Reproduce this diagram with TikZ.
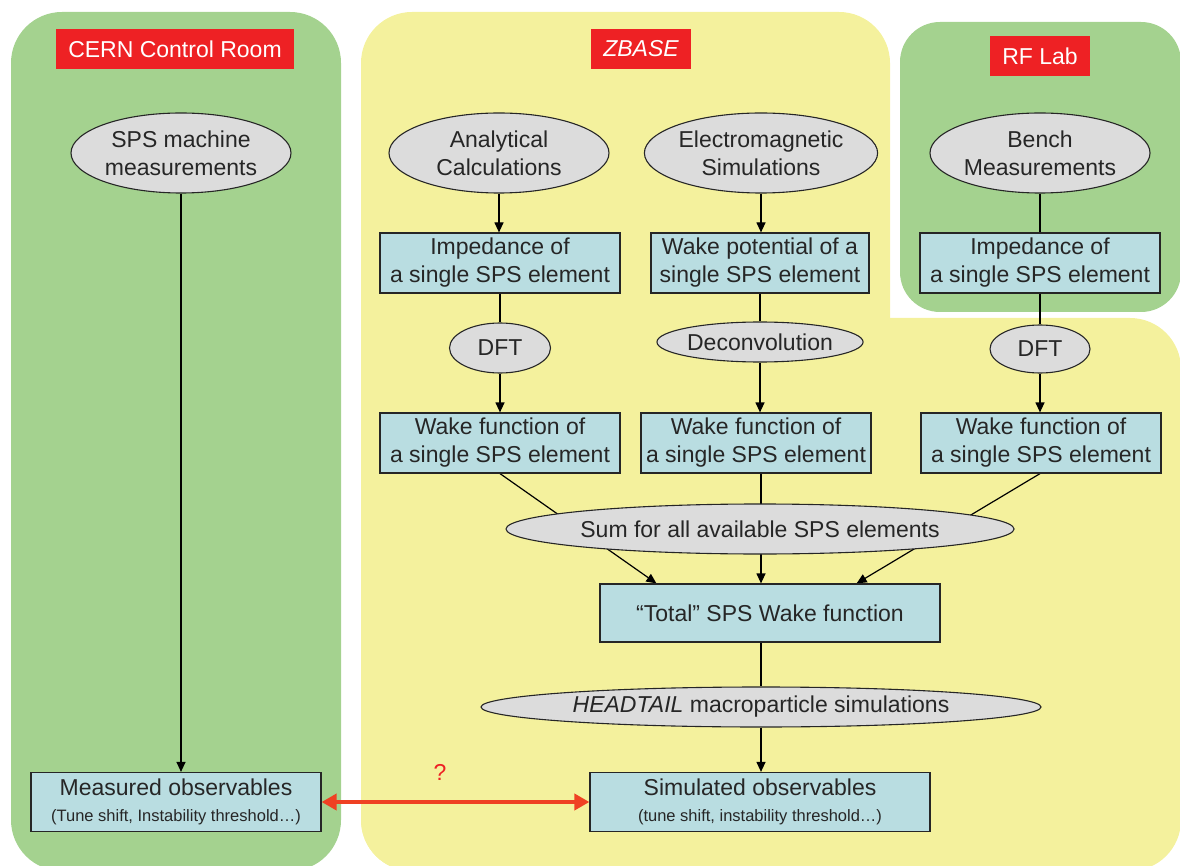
\documentclass[tikz,border=0pt]{standalone}
\usepackage{fontspec}
\setmainfont{Liberation Sans}
\usetikzlibrary{arrows.meta,shapes.geometric}

\definecolor{roomgreen}{HTML}{A4D28F}
\definecolor{zbyellow}{HTML}{F4F19D}
\definecolor{boxblue}{HTML}{B9DDE1}
\definecolor{ellgray}{HTML}{DCDCDC}
\definecolor{labelred}{HTML}{EE2124}
\definecolor{linkred}{HTML}{EF4123}
\definecolor{inkgray}{HTML}{262626}

\pgfdeclarelayer{zones}
\pgfdeclarelayer{links}
\pgfsetlayers{zones,links,main}

\begin{document}
\begin{tikzpicture}[x=1pt,y=-1pt,>={Triangle[length=10pt,width=9pt]},
    every node/.style={font=\fontsize{23}{28}\selectfont,text=inkgray},
    blk/.style={draw=inkgray,line width=1.2pt,fill=boxblue,minimum height=60pt,inner sep=3pt,align=center},
    oval/.style={ellipse,draw=inkgray,line width=1.1pt,fill=ellgray,inner sep=0pt,align=center},
    tag/.style={fill=labelred,text=white,minimum height=40pt,inner xsep=12.5pt},
    link/.style={black,line width=1.2pt}]
  \useasboundingbox (0,0) rectangle (1180,866);

  % rooms
  \begin{pgfonlayer}{zones}
    \begin{scope}
      \clip (0,0) rectangle (1180,866);
      \fill[roomgreen,rounded corners=51pt] (11,12) rectangle (341,871);
      \fill[zbyellow,rounded corners=51pt] (361,12) rectangle (890,871);
      \fill[zbyellow,rounded corners=51pt] (361,318) rectangle (1181,871);
      \fill[roomgreen,rounded corners=40pt] (900,22) rectangle (1181,312);
    \end{scope}
  \end{pgfonlayer}

  \node[tag] (cernTag) at (175,49) {CERN Control Room};
  \node[tag,font=\fontsize{23}{28}\selectfont\itshape] (zbaseTag) at (641,49) {ZBASE};
  \node[tag] (rfTag) at (1040,56) {RF Lab};

  % sources
  \node[oval,minimum width=220pt,minimum height=80pt] (machine) at (181,153) {SPS machine\\measurements};
  \node[oval,minimum width=220pt,minimum height=80pt] (analytic) at (499,153) {Analytical\\Calculations};
  \node[oval,minimum width=222pt,minimum height=80pt] (emsim) at (761,153) {Electromagnetic\\Simulations};
  \node[oval,minimum width=220pt,minimum height=80pt] (bench) at (1040,153) {Bench\\Measurements};

  \node[blk,minimum width=240pt] (impA) at (500,263) {Impedance of\\a single SPS element};
  \node[blk,minimum width=218pt] (wakepot) at (760,263) {Wake potential of a\\single SPS element};
  \node[blk,minimum width=240pt] (impC) at (1040,263) {Impedance of\\a single SPS element};

  \node[oval,minimum width=101pt,minimum height=50pt] (dftA) at (500,348) {DFT};
  \node[oval,minimum width=200pt,minimum height=40pt] (deconv) at (760,342) {Deconvolution};
  \node[oval,minimum width=100pt,minimum height=48pt] (dftC) at (1040,349) {DFT};

  \node[blk,minimum width=240pt] (wakeA) at (500,443) {Wake function of\\a single SPS element};
  \node[blk,minimum width=230pt] (wakeB) at (756,443) {Wake function of\\a single SPS element};
  \node[blk,minimum width=240pt] (wakeC) at (1041,443) {Wake function of\\a single SPS element};

  \node[oval,minimum width=460pt,minimum height=50pt] (sum) at (760,529) {Sum for all available SPS elements};
  \node[blk,minimum width=340pt,minimum height=58pt] (total) at (770,613) {“Total” SPS Wake function};
  \node[oval,minimum width=560pt,minimum height=40pt] (headtail) at (761,707) {\textit{HEADTAIL} macroparticle simulations};

  \node[blk,minimum width=340pt,minimum height=59pt] (simulated) at (760,802)
    {Simulated observables\\[-2pt]{\fontsize{16.5}{19}\selectfont(tune shift, instability threshold…)}};
  \node[blk,minimum width=290pt,minimum height=59pt] (measured) at (176,802)
    {Measured observables\\[-2pt]{\fontsize{16.5}{19}\selectfont(Tune shift, Instability threshold…)}};

  % connectors
  \draw[link,->] (machine) -- (measured.north -| machine);
  \draw[link,->] (analytic.south) -- (impA.north -| analytic);
  \draw[link,->] (emsim.south) -- (wakepot.north -| emsim);
  \draw[link] (bench) -- (impC);
  \draw[link] (impA) -- (dftA);
  \draw[link,->] (dftA) -- (wakeA);
  \draw[link] (wakepot) -- (deconv);
  \draw[link,->] (deconv.south) -- (deconv.south |- wakeB.north);
  \draw[link] (impC) -- (dftC);
  \draw[link,->] (dftC) -- (wakeC.north -| dftC);
  \begin{pgfonlayer}{links}
    \draw[link,->] (wakeA.south) -- ([xshift=57pt]total.north west);
    \draw[link,->] ([xshift=5pt]wakeB.south) -- ([xshift=-9pt]total.north);
    \draw[link,->] ([xshift=-1pt]wakeC.south) -- ([xshift=-84pt]total.north east);
  \end{pgfonlayer}
  \draw[link] ([xshift=-9pt]total.south) -- (headtail.north -| headtail);
  \draw[link,->] (headtail.south) -- (simulated.north -| headtail);

  \draw[linkred,line width=4.5pt,{Triangle[length=15pt,width=16pt]}-{Triangle[length=15pt,width=16pt]}]
    (measured.east) -- (simulated.west);
  \node[text=labelred] (query) at (440,772) {?};
\end{tikzpicture}
\end{document}
